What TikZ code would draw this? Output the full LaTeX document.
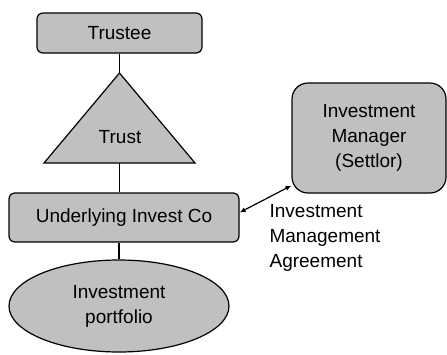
\documentclass[tikz,border=0pt]{standalone}
\usepackage{fontspec}
\setmainfont{Liberation Sans}
\usetikzlibrary{shapes.geometric,arrows.meta}

\definecolor{boxgray}{RGB}{192,192,192}
\tikzset{
  entity/.style={draw, fill=boxgray, rounded corners=6pt, align=center,
    font=\fontsize{19}{25}\selectfont},
  plaintext/.style={align=left, inner sep=0pt, font=\fontsize{19}{25}\selectfont},
}

\begin{document}
\begin{tikzpicture}[x=1pt,y=-1pt,line width=1.2pt]
\useasboundingbox (0,0) rectangle (447,354);

\node[entity, minimum width=165pt, minimum height=40pt] (trustee) at (119.5,33) {Trustee};

% the trust triangle
\coordinate (apex) at (119.5,73);
\coordinate (baseleft) at (44,163);
\coordinate (baseright) at (195,163);
\coordinate (base) at (119.5,163);
\draw[fill=boxgray] (apex) -- (baseright) -- (baseleft) -- cycle;
\node[font=\fontsize{19}{25}\selectfont] (trust) at (120,137) {Trust};

\node[entity, minimum width=230pt, minimum height=49pt] (invco) at (124,217.5) {Underlying Invest Co};

\node[entity, ellipse, minimum width=220pt, minimum height=92pt] (portfolio) at (119,306) {Investment\\portfolio};

\node[entity, rounded corners=16pt, minimum width=154pt, minimum height=110pt] (manager) at (369,138) {Investment\\Manager\\(Settlor)};

\node[plaintext, anchor=west] (agreement) at (269,238) {Investment\\Management\\Agreement};

\draw (trustee.south) -- (apex);
\draw (base) -- (base |- invco.north);
\draw (portfolio.north |- invco.south) -- (portfolio.north);
\draw[{Latex[length=6pt,width=5pt]}-{Latex[length=6pt,width=5pt]}] ([yshift=5pt]invco.east) -- ([yshift=8pt]manager.south west);
\end{tikzpicture}
\end{document}
